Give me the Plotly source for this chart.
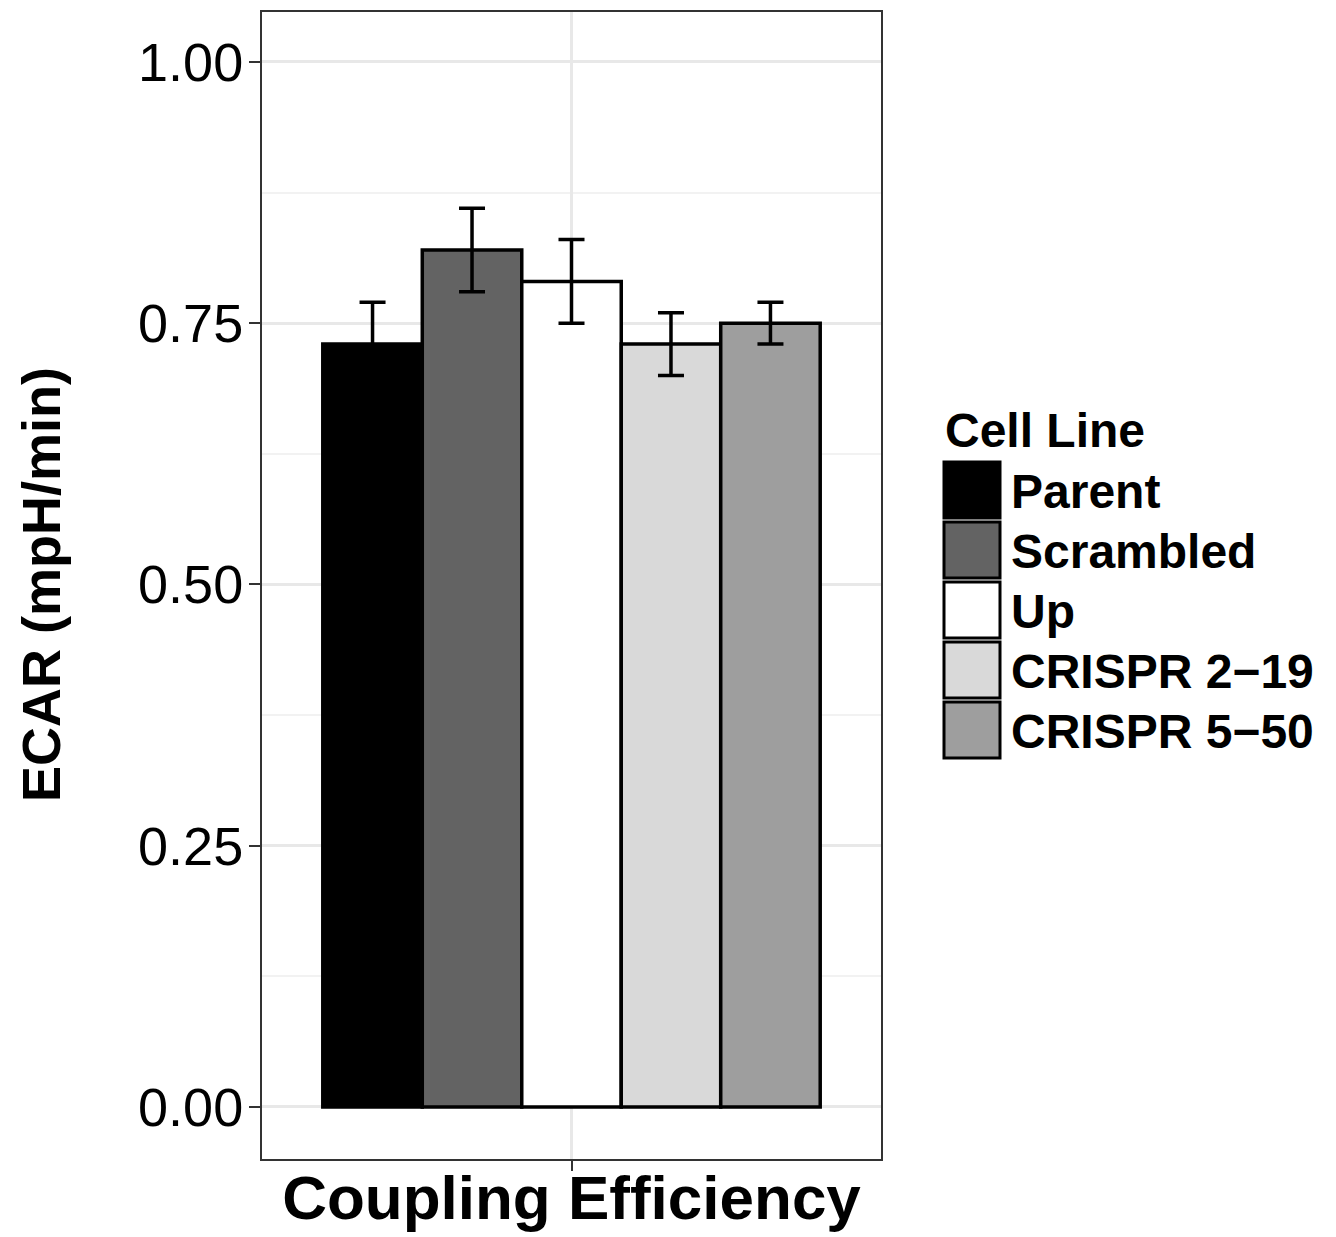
import plotly.graph_objects as go

category = ["Coupling Efficiency"]
cell_lines = ["Parent", "Scrambled", "Up", "CRISPR 2\u221219", "CRISPR 5\u221250"]
values = [0.73, 0.82, 0.79, 0.73, 0.75]
errors = [0.04, 0.04, 0.04, 0.03, 0.02]
fills = ["#000000", "#636363", "#ffffff", "#d9d9d9", "#9e9e9e"]
y_ticks = [0.0, 0.25, 0.5, 0.75, 1.0]
y_ticklabels = ["0.00", "0.25", "0.50", "0.75", "1.00"]
legend_title = "Cell Line"
y_title = "ECAR (mpH/min)"

W, H = 1336, 1237
L, R, T, B = 262, 881, 12, 1159
FONT = "Liberation Sans, Arial, sans-serif"

fig = go.Figure()
for name, v, e, c in zip(cell_lines, values, errors, fills):
    fig.add_trace(go.Bar(
        x=category, y=[v], name=name,
        marker=dict(color=c, line=dict(color="black", width=3.5)),
        error_y=dict(type="data", array=[e], color="black", thickness=3.5, width=13),
        showlegend=False,
    ))

def px(xp):
    return (xp - L) / (R - L)

def py(yp):
    return (B - yp) / (B - T)

# custom legend
shapes = []
annotations = []
annotations.append(dict(text="<b>" + legend_title + "</b>", x=px(943), y=py(430), xref="paper", yref="paper",
                        xanchor="left", yanchor="middle", showarrow=False,
                        font=dict(family=FONT, size=48, color="black")))
for i, (name, c) in enumerate(zip(cell_lines, fills)):
    top = 462 + 60 * i
    shapes.append(dict(type="rect", xref="paper", yref="paper",
                       x0=px(944), x1=px(1000), y0=py(top), y1=py(top + 56),
                       fillcolor=c, line=dict(color="black", width=3)))
    annotations.append(dict(text="<b>" + name + "</b>", x=px(1009), y=py(top + 29), xref="paper", yref="paper",
                            xanchor="left", yanchor="middle", showarrow=False,
                            font=dict(family=FONT, size=48, color="black")))
annotations.append(dict(text="<b>" + y_title + "</b>", x=px(41), y=py(585), xref="paper", yref="paper",
                        xanchor="center", yanchor="middle", textangle=-90, showarrow=False,
                        font=dict(family=FONT, size=54, color="black")))

fig.update_layout(
    width=W, height=H,
    margin=dict(l=L, r=W - R, t=T, b=H - B, autoexpand=False),
    paper_bgcolor="white", plot_bgcolor="white",
    barmode="group", bargap=0.1, bargroupgap=0,
    shapes=shapes, annotations=annotations,
    font=dict(family=FONT, color="black"),
)
fig.update_xaxes(
    range=[-0.56, 0.56], showgrid=True, gridcolor="#e8e8e8", gridwidth=2.5,
    showline=True, mirror=True, linecolor="#333333", linewidth=2,
    ticks="outside", ticklen=10, tickwidth=2, tickcolor="#333333",
    tickfont=dict(family=FONT, size=62, color="black", weight="bold"),
    ticklabelstandoff=-26,
    zeroline=False,
)
fig.update_yaxes(
    range=[-0.0498, 1.0478], tickvals=y_ticks, ticktext=y_ticklabels,
    showgrid=True, gridcolor="#e8e8e8", gridwidth=2.5,
    minor=dict(tickvals=[0.125, 0.375, 0.625, 0.875], showgrid=True, gridcolor="#f2f2f2", gridwidth=2),
    showline=True, mirror=True, linecolor="#333333", linewidth=2,
    ticks="outside", ticklen=11, tickwidth=2, tickcolor="#333333",
    tickfont=dict(family=FONT, size=54, color="black"),
    ticklabelstandoff=-5,
    zeroline=False,
)
fig.write_html("out.html")
